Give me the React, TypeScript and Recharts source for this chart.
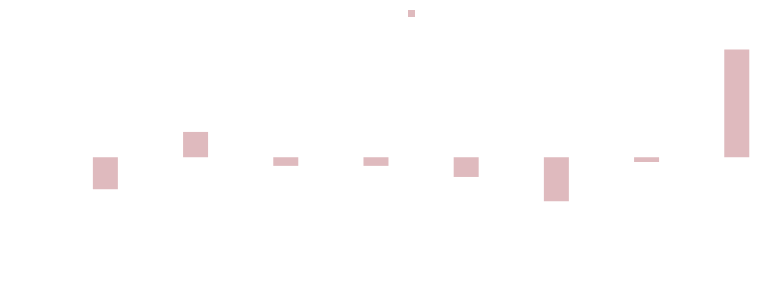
import { BarChart, Bar, XAxis, YAxis, Legend } from 'recharts'

const categories = ['A', 'B', 'C', 'D', 'E', 'F', 'G', 'H']
const values = [-2.97, 2.35, -0.8, -0.8, -1.83, -4.09, -0.44, 10.0]

const BAR_COLOR = '#dfbabe'

const data = categories.map((name, i) => ({ name, value: values[i] }))

const renderLegend = () => (
  <div style={{ height: 20, display: 'flex', justifyContent: 'center' }}>
    <span
      style={{
        display: 'inline-block',
        width: 7,
        height: 7,
        marginTop: 2,
        marginRight: 19,
        background: BAR_COLOR,
      }}
    />
  </div>
)

export default function App() {
  return (
    <div style={{ width: 769, height: 294, overflow: 'hidden' }}>
      <BarChart
        width={790}
        height={294}
        data={data}
        margin={{ top: 0, right: 16, bottom: 15.5, left: 52.4 }}
        barCategoryGap="36%"
      >
        <XAxis dataKey="name" hide />
        <YAxis hide domain={[-12, 12]} />
        <Legend verticalAlign="top" content={renderLegend} />
        <Bar dataKey="value" fill={BAR_COLOR} isAnimationActive={false} />
      </BarChart>
    </div>
  )
}
